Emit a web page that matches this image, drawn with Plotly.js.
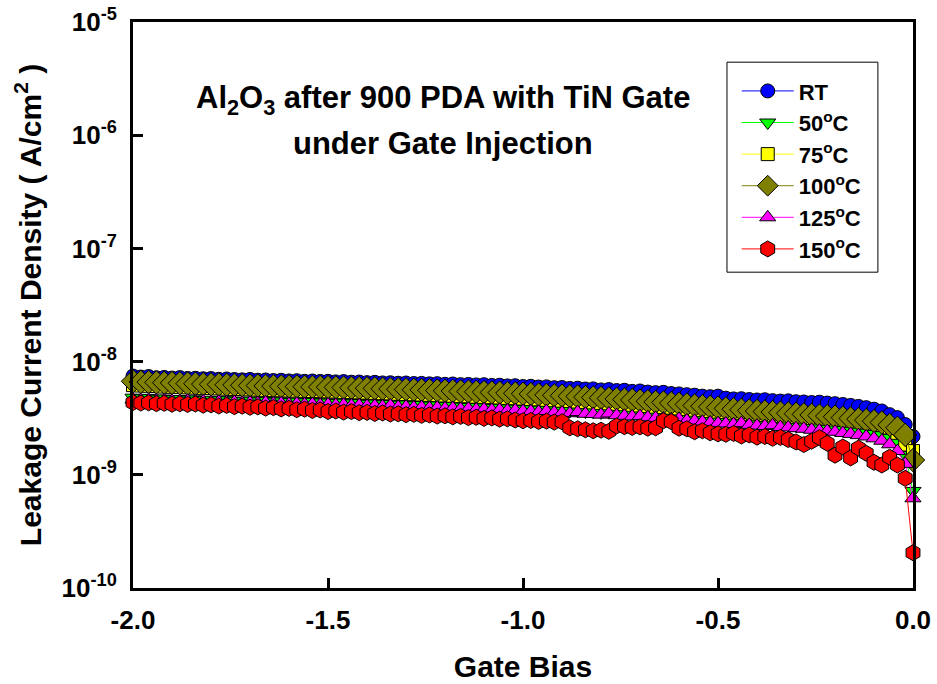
<!DOCTYPE html>
<html>
<head>
<meta charset="utf-8">
<script src="https://cdn.plot.ly/plotly-3.0.1.min.js"></script>
<style>html,body{margin:0;padding:0;background:#fff;}#chart{width:937px;height:684px;}</style>
</head>
<body>
<div id="chart"></div>
<script>
// Gate bias (V)
const gateBias = [-2.00,-1.98,-1.96,-1.94,-1.92,-1.90,-1.88,-1.86,-1.84,-1.82,-1.80,-1.78,-1.76,-1.74,-1.72,-1.70,-1.68,-1.66,-1.64,-1.62,-1.60,-1.58,-1.56,-1.54,-1.52,-1.50,
-1.48,-1.46,-1.44,-1.42,-1.40,-1.38,-1.36,-1.34,-1.32,-1.30,-1.28,-1.26,-1.24,-1.22,-1.20,-1.18,-1.16,-1.14,-1.12,-1.10,-1.08,-1.06,-1.04,-1.02,-1.00,
-0.98,-0.96,-0.94,-0.92,-0.90,-0.88,-0.86,-0.84,-0.82,-0.80,-0.78,-0.76,-0.74,-0.72,-0.70,-0.68,-0.66,-0.64,-0.62,-0.60,-0.58,-0.56,-0.54,-0.52,-0.50,
-0.48,-0.46,-0.44,-0.42,-0.40,-0.38,-0.36,-0.34,-0.32,-0.30,-0.28,-0.26,-0.24,-0.22,-0.20,
-0.18,-0.16,-0.14,-0.12,-0.10,-0.08,-0.06,-0.04,-0.02,0.00];

// Leakage current density (units of 1e-9 A/cm^2)
const rt = [7.45,7.30,7.38,7.20,7.25,7.15,7.22,7.10,7.12,7.05,7.08,6.98,7.02,6.95,6.90,6.96,6.85,6.88,6.80,6.84,6.75,6.78,6.70,6.74,6.68,6.70,
6.62,6.66,6.58,6.60,6.52,6.56,6.48,6.50,6.44,6.47,6.40,6.42,6.36,6.38,6.30,6.34,6.26,6.28,6.22,6.25,6.16,6.18,6.10,6.12,6.02,
6.05,5.96,5.98,5.88,5.90,5.80,5.82,5.72,5.74,5.62,5.66,5.55,5.58,5.46,5.50,5.38,5.32,5.35,5.22,5.18,5.10,5.05,4.95,4.90,4.95,
4.75,4.68,4.70,4.62,4.58,4.60,4.52,4.48,4.50,4.42,4.40,4.35,4.38,4.30,4.25,
4.18,4.10,4.02,3.92,3.80,3.66,3.40,3.20,2.78,2.18];

const c50 = [4.80,4.75,4.78,4.70,4.72,4.66,4.68,4.62,4.64,4.58,4.60,4.55,4.56,4.52,4.50,4.52,4.46,4.48,4.44,4.45,4.40,4.42,4.38,4.40,4.36,4.35,
4.32,4.34,4.28,4.30,4.24,4.26,4.20,4.22,4.16,4.18,4.12,4.14,4.08,4.10,4.04,4.05,4.00,3.98,3.96,3.94,3.90,3.92,3.86,3.84,3.80,
3.80,3.76,3.78,3.72,3.70,3.66,3.68,3.62,3.60,3.56,3.58,3.52,3.50,3.45,3.42,3.38,3.36,3.30,3.28,3.22,3.20,3.14,3.10,3.06,3.00,
2.98,2.95,2.92,2.90,2.86,2.84,2.80,2.78,2.75,2.72,2.70,2.66,2.62,2.60,2.55,
2.52,2.48,2.42,2.36,2.30,2.24,2.12,1.96,1.50,0.72];

const c75 = [6.20,6.15,6.12,6.08,6.02,6.00,5.98,5.92,5.90,5.86,5.84,5.80,5.78,5.74,5.72,5.68,5.66,5.63,5.60,5.58,5.56,5.54,5.52,5.50,5.48,5.46,
5.44,5.40,5.38,5.35,5.32,5.30,5.26,5.24,5.20,5.18,5.15,5.12,5.08,5.06,5.02,5.00,4.96,4.94,4.90,4.88,4.85,4.82,4.78,4.75,4.72,
4.68,4.64,4.60,4.56,4.52,4.48,4.44,4.40,4.36,4.32,4.28,4.24,4.20,4.16,4.10,4.05,4.00,3.96,3.92,3.86,3.82,3.76,3.72,3.66,3.62,
3.58,3.54,3.50,3.46,3.42,3.38,3.35,3.32,3.28,3.25,3.22,3.18,3.15,3.12,3.08,
3.05,3.00,2.95,2.90,2.84,2.76,2.62,2.35,1.85,1.62];

const c100 = [6.70,6.62,6.60,6.55,6.50,6.48,6.44,6.40,6.38,6.33,6.30,6.28,6.24,6.22,6.18,6.15,6.14,6.10,6.08,6.05,6.04,6.02,6.00,5.98,5.97,5.95,
5.92,5.90,5.87,5.84,5.82,5.80,5.76,5.74,5.70,5.68,5.64,5.62,5.58,5.55,5.52,5.50,5.46,5.44,5.40,5.38,5.34,5.32,5.28,5.25,5.20,
5.17,5.12,5.08,5.04,5.00,4.95,4.92,4.86,4.82,4.78,4.72,4.68,4.62,4.58,4.52,4.46,4.40,4.36,4.30,4.24,4.18,4.10,4.04,3.98,3.92,
3.86,3.80,3.75,3.70,3.66,3.62,3.58,3.54,3.50,3.46,3.42,3.38,3.34,3.30,3.26,
3.20,3.15,3.10,3.04,2.98,2.90,2.76,2.60,2.25,1.35];

const c125 = [4.62,4.58,4.60,4.52,4.55,4.50,4.48,4.52,4.44,4.46,4.40,4.42,4.36,4.40,4.32,4.34,4.30,4.36,4.26,4.28,4.22,4.25,4.20,4.22,4.16,4.18,
4.14,4.16,4.10,4.12,4.06,4.08,4.02,4.10,3.98,4.00,3.94,3.96,3.90,3.92,3.86,3.88,3.82,3.84,3.78,3.80,3.74,3.76,3.70,3.72,3.66,
3.64,3.60,3.66,3.56,3.54,3.50,3.58,3.46,3.44,3.40,3.48,3.36,3.32,3.28,3.30,3.22,3.18,3.14,3.10,3.12,3.02,3.00,2.94,2.90,2.86,
2.84,2.80,2.86,2.76,2.72,2.70,2.74,2.64,2.62,2.58,2.55,2.50,2.46,2.44,2.40,
2.34,2.30,2.24,2.18,2.10,2.00,1.86,1.62,1.25,0.62];

const c150 = [4.35,4.30,4.32,4.25,4.28,4.20,4.24,4.18,4.22,4.12,4.15,4.05,4.10,4.00,4.04,3.95,3.98,3.88,3.92,3.82,3.86,3.76,3.80,3.70,3.74,3.62,
3.66,3.58,3.62,3.54,3.56,3.48,3.52,3.44,3.46,3.40,3.42,3.35,3.38,3.30,3.32,3.25,3.28,3.20,3.22,3.15,3.18,3.10,3.12,3.05,3.00,
3.02,2.96,2.98,2.92,2.94,2.60,2.55,2.50,2.45,2.48,2.42,2.70,2.66,2.62,2.65,2.58,2.60,3.00,2.95,2.58,2.55,2.40,2.45,2.35,2.30,
2.28,2.32,2.20,2.25,2.15,2.18,2.10,2.14,2.05,1.95,1.85,1.98,2.13,1.90,1.49,
1.76,1.41,1.72,1.55,1.29,1.22,1.43,1.22,0.93,0.205];

const seriesNames = ["RT","50<sup>o</sup>C","75<sup>o</sup>C","100<sup>o</sup>C","125<sup>o</sup>C","150<sup>o</sup>C"];
const seriesData = [rt, c50, c75, c100, c125, c150];
const yTickVals = [1e-10,1e-9,1e-8,1e-7,1e-6,1e-5];
const yTickText = ["10<sup>-10</sup>","10<sup>-9</sup>","10<sup>-8</sup>","10<sup>-7</sup>","10<sup>-6</sup>","10<sup>-5</sup>"];
const xTickVals = [-2.0,-1.5,-1.0,-0.5,0.0];
const xTickText = ["-2.0","-1.5","-1.0","-0.5","0.0"];

const styles = [
  {color:"#0000ff", symbol:"circle", size:14},
  {color:"#00ff00", symbol:"triangle-down", size:14},
  {color:"#ffff00", symbol:"square", size:13},
  {color:"#808000", symbol:"diamond", size:18},
  {color:"#ff00ff", symbol:"triangle-up", size:14},
  {color:"#ff0000", symbol:"hexagon", size:16}
];

const FONT = "Liberation Sans, Arial, Helvetica, sans-serif";

const traces = seriesData.map((vals, k) => ({
  x: gateBias,
  y: vals.map(v => v * 1e-9),
  name: seriesNames[k],
  type: "scatter",
  mode: "lines+markers",
  cliponaxis: false,
  legendgroup: "g" + k,
  line: {color: styles[k].color, width: 1},
  marker: {symbol: styles[k].symbol, size: styles[k].size, color: styles[k].color,
           line: {color: "#000000", width: 1}}
}));

const layout = {
  width: 937, height: 684,
  margin: {l: 133, r: 24, t: 22, b: 96},
  paper_bgcolor: "#ffffff", plot_bgcolor: "#ffffff",
  font: {family: FONT, color: "#000000"},
  showlegend: true,
  legend: {
    x: 0.774, y: 0.915, xanchor: "left", yanchor: "top",
    borderwidth: 0, bgcolor: "rgba(0,0,0,0)",
    font: {family: FONT, size: 22, weight: "bold", color: "#000000"},
    traceorder: "grouped", tracegroupgap: 0,
    itemwidth: 52
  },
  shapes: [{
    type: "rect", xref: "paper", yref: "paper",
    x0: 0.7615, x1: 0.955, y0: 0.558, y1: 0.929,
    line: {color: "#000000", width: 1}, fillcolor: "rgba(0,0,0,0)", layer: "below"
  }],
  xaxis: {
    range: [-2.0, 0.0], showgrid: false, zeroline: false,
    showline: true, linecolor: "#000000", linewidth: 3, mirror: true,
    ticks: "inside", ticklen: 10, tickwidth: 3, tickcolor: "#000000",
    tickmode: "array", tickvals: xTickVals, ticktext: xTickText,
    tickfont: {family: FONT, size: 26, weight: "bold"},
    ticklabelstandoff: 7,
    title: {text: "Gate Bias", font: {family: FONT, size: 30, weight: "bold"}, standoff: 22}
  },
  yaxis: {
    type: "log", range: [-10, -5], showgrid: false, zeroline: false,
    showline: true, linecolor: "#000000", linewidth: 3, mirror: true,
    ticks: "inside", ticklen: 10, tickwidth: 3, tickcolor: "#000000",
    tickmode: "array", tickvals: yTickVals, ticktext: yTickText,
    tickfont: {family: FONT, size: 26, weight: "bold"},
    ticklabelstandoff: 8,
    title: {text: "Leakage Current Density ( A/cm<sup>2</sup> )", font: {family: FONT, size: 30, weight: "bold"}, standoff: 12}
  },
  annotations: [{
    xref: "paper", yref: "paper", x: 0.397, y: 0.862, xanchor: "center", yanchor: "middle",
    showarrow: false, align: "center",
    text: "Al<sub>2</sub>O<sub>3</sub> after 900 PDA with TiN Gate",
    font: {family: FONT, size: 31, weight: "bold", color: "#000000"}
  }, {
    xref: "paper", yref: "paper", x: 0.397, y: 0.786, xanchor: "center", yanchor: "middle",
    showarrow: false, align: "center",
    text: "under Gate Injection",
    font: {family: FONT, size: 31, weight: "bold", color: "#000000"}
  }]
};

Plotly.newPlot("chart", traces, layout, {displayModeBar: false, staticPlot: true});
</script>
</body>
</html>
